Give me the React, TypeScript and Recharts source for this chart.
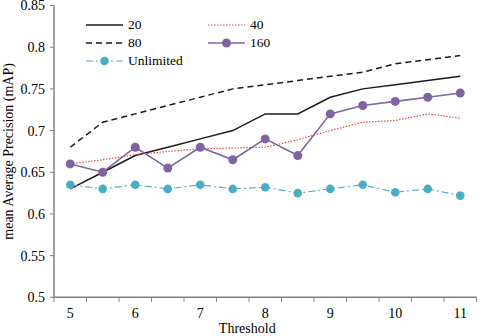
import React from 'react';
import { LineChart, Line, XAxis, YAxis, Legend } from 'recharts';

// ---- data ----
const thresholds = [5, 5.5, 6, 6.5, 7, 7.5, 8, 8.5, 9, 9.5, 10, 10.5, 11];
const series20 = [0.63, 0.65, 0.67, 0.68, 0.69, 0.7, 0.72, 0.72, 0.74, 0.75, 0.755, 0.76, 0.765];
const series40 = [0.66, 0.665, 0.671, 0.675, 0.678, 0.679, 0.68, 0.689, 0.7, 0.71, 0.712, 0.72, 0.715];
const series80 = [0.68, 0.71, 0.72, 0.73, 0.74, 0.75, 0.755, 0.76, 0.765, 0.77, 0.78, 0.785, 0.79];
const series160 = [0.66, 0.65, 0.68, 0.655, 0.68, 0.665, 0.69, 0.67, 0.72, 0.73, 0.735, 0.74, 0.745];
const seriesUnlimited = [0.635, 0.63, 0.635, 0.63, 0.635, 0.63, 0.632, 0.625, 0.63, 0.635, 0.626, 0.63, 0.622];

const seriesNames = ['20', '40', '80', '160', 'Unlimited'];
const yTicks = [0.5, 0.55, 0.6, 0.65, 0.7, 0.75, 0.8, 0.85];
const xLabelTicks = [5, 6, 7, 8, 9, 10, 11];
const xBoundaryTicks = [4.75, 5.25, 5.75, 6.25, 6.75, 7.25, 7.75, 8.25, 8.75, 9.25, 9.75, 10.25, 10.75, 11.25];
const xDomain = [4.75, 11.25];
const yDomain = [0.5, 0.85];

const data = thresholds.map((t, i) => ({
  t,
  s20: series20[i],
  s40: series40[i],
  s80: series80[i],
  s160: series160[i],
  sUnl: seriesUnlimited[i],
}));

// ---- styles ----
const FONT = '"Liberation Serif", "Times New Roman", Times, serif';
const AXIS = '#808080';

type Style = { key: string; stroke: string; width: number; dash?: string; dotR?: number };
const styles: Style[] = [
  { key: 's20', stroke: '#1a1a1a', width: 1.5 },
  { key: 's40', stroke: '#e04a4a', width: 1.2, dash: '1.5 1.5' },
  { key: 's80', stroke: '#1a1a1a', width: 1.5, dash: '6 4' },
  { key: 's160', stroke: '#8064a2', width: 1.6, dotR: 4.5 },
  { key: 'sUnl', stroke: '#4bacc6', width: 1.1, dash: '7 3 2 3', dotR: 4.3 },
];

const allTicks = [...xBoundaryTicks, ...xLabelTicks].sort((a, b) => a - b);

const XTick = (props: any) => {
  const { x, y, payload } = props;
  const v = payload.value as number;
  const isBoundary = xBoundaryTicks.some((b) => Math.abs(b - v) < 1e-9);
  const isLabel = xLabelTicks.some((b) => Math.abs(b - v) < 1e-9);
  return (
    <g>
      {isBoundary && <line x1={x} x2={x} y1={y} y2={y + 4.5} stroke={AXIS} strokeWidth={1} />}
      {isLabel && (
        <text x={x} y={y + 21} textAnchor="middle" fontSize={14} fontFamily={FONT} fill="#000">
          {v}
        </text>
      )}
    </g>
  );
};

const renderLegend = () => (
  <div
    style={{
      display: 'grid',
      gridTemplateColumns: '122px 122px',
      fontFamily: FONT,
      fontSize: 13.5,
      color: '#000',
      lineHeight: '18px',
    }}
  >
    {styles.map((s, i) => (
      <div key={s.key} style={{ display: 'flex', alignItems: 'center', height: 18 }}>
        <svg width={37} height={10} style={{ display: 'block' }}>
          <line x1={0} x2={37} y1={5} y2={5} stroke={s.stroke} strokeWidth={s.width} strokeDasharray={s.dash} />
          {s.dotR && <circle cx={18.5} cy={5} r={s.dotR} fill={s.stroke} />}
        </svg>
        <span style={{ marginLeft: 5 }}>{seriesNames[i]}</span>
      </div>
    ))}
  </div>
);

export default function App() {
  return (
    <div style={{ position: 'absolute', left: 0, top: 0, width: 480, height: 336, background: '#fff' }}>
      <LineChart width={480} height={336} data={data} margin={{ top: 5.5, right: 3.5, bottom: 0, left: 0 }}>
        <XAxis
          dataKey="t"
          type="number"
          domain={xDomain}
          ticks={allTicks}
          interval={0}
          tickSize={0}
          tickMargin={0}
          tickLine={false}
          tick={<XTick />}
          height={38.7}
          axisLine={{ stroke: AXIS, strokeWidth: 1.5 }}
          allowDataOverflow
          label={{ value: 'Threshold', position: 'center', dx: -18, dy: 11.5, fontSize: 14, fontFamily: FONT, fill: '#000' }}
        />
        <XAxis xAxisId="top" orientation="top" dataKey="t" type="number" domain={xDomain} height={0} tick={false} tickLine={false} axisLine={{ stroke: AXIS, strokeWidth: 1.5 }} />
        <YAxis
          domain={yDomain}
          ticks={yTicks}
          interval={0}
          width={54}
          tickSize={4}
          tickMargin={5}
          tickLine={{ stroke: AXIS }}
          axisLine={{ stroke: AXIS, strokeWidth: 1.5 }}
          tick={{ fontSize: 14, fontFamily: FONT, fill: '#000' }}
          allowDataOverflow
          label={{ value: 'mean Average Precision (mAP)', angle: -90, position: 'center', dx: -19, fontSize: 14, fontFamily: FONT, fill: '#000' }}
        />
        <YAxis yAxisId="right" orientation="right" domain={yDomain} width={0} tick={false} tickLine={false} axisLine={{ stroke: AXIS, strokeWidth: 1.5 }} />
        <Legend
          layout="horizontal"
          verticalAlign="middle"
          align="center"
          content={renderLegend}
          wrapperStyle={{ position: 'absolute', left: 86, top: 16, width: 260, height: 54 }}
        />
        {styles.map((s, i) => (
          <Line
            key={s.key}
            name={seriesNames[i]}
            dataKey={s.key}
            type="linear"
            stroke={s.stroke}
            strokeWidth={s.width}
            strokeDasharray={s.dash}
            dot={s.dotR ? { r: s.dotR, fill: s.stroke, stroke: s.stroke, strokeWidth: 0 } : false}
            activeDot={false}
            isAnimationActive={false}
          />
        ))}
      </LineChart>
    </div>
  );
}
